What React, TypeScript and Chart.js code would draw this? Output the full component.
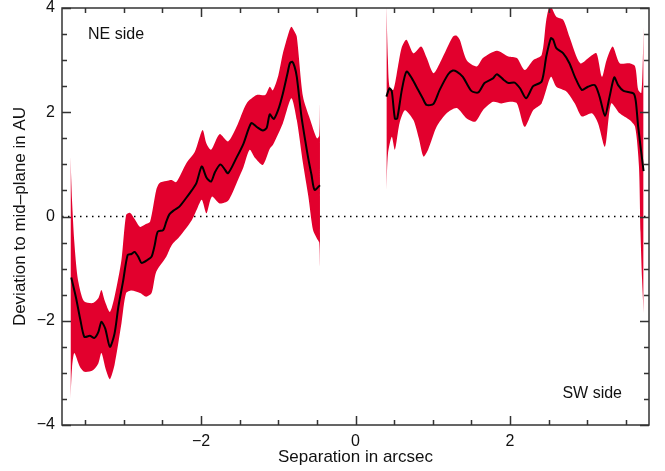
import React, { useEffect, useRef } from "react";
import { Chart, registerables } from "chart.js";

Chart.register(...registerables);

// ---------- Data ----------
const neMeanX = [-3.68, -3.62, -3.56, -3.51, -3.44, -3.38, -3.33, -3.29, -3.24, -3.18, -3.12, -3.07, -3.01, -2.95, -2.9, -2.86, -2.81, -2.77, -2.69, -2.64, -2.6, -2.56, -2.49, -2.45, -2.41, -2.35, -2.28, -2.19, -2.12, -2.06, -1.99, -1.93, -1.87, -1.82, -1.75, -1.7, -1.65, -1.54, -1.45, -1.35, -1.28, -1.2, -1.15, -1.11, -1.06, -1.0, -0.94, -0.88, -0.85, -0.82, -0.79, -0.76, -0.7, -0.65, -0.61, -0.57, -0.53, -0.46];
const neMeanY = [-1.17, -1.55, -2.0, -2.31, -2.29, -2.33, -2.22, -2.02, -2.15, -2.5, -2.25, -1.73, -1.25, -0.74, -0.72, -0.68, -0.78, -0.89, -0.83, -0.77, -0.55, -0.29, -0.26, -0.1, 0.04, 0.12, 0.19, 0.36, 0.5, 0.64, 0.96, 0.75, 0.67, 0.85, 1.0, 0.92, 0.83, 1.13, 1.4, 1.79, 1.72, 1.65, 1.7, 1.96, 1.87, 2.05, 2.36, 2.75, 2.94, 2.97, 2.88, 2.68, 1.92, 1.45, 1.1, 0.8, 0.51, 0.6];

const neUpperX = [-3.69, -3.67, -3.64, -3.6, -3.55, -3.51, -3.4, -3.33, -3.29, -3.25, -3.18, -3.12, -3.03, -2.97, -2.92, -2.86, -2.79, -2.72, -2.66, -2.58, -2.54, -2.45, -2.38, -2.32, -2.19, -2.08, -1.98, -1.93, -1.87, -1.76, -1.65, -1.54, -1.41, -1.28, -1.17, -1.11, -1.07, -1.0, -0.94, -0.86, -0.83, -0.79, -0.76, -0.68, -0.59, -0.5, -0.47, -0.46];
const neUpperY = [1.15, 0.3, -0.5, -1.15, -1.5, -1.63, -1.66, -1.57, -1.41, -1.6, -1.83, -1.54, -0.83, 0.03, 0.07, -0.05, -0.2, -0.15, -0.1, 0.51, 0.64, 0.68, 0.7, 0.66, 1.02, 1.24, 1.66, 1.4, 1.28, 1.58, 1.44, 1.72, 2.17, 2.33, 2.33, 2.49, 2.42, 2.7, 3.13, 3.55, 3.64, 3.55, 3.45, 2.3, 1.87, 1.5, 1.55, 2.18];

const neLowerX = [-3.69, -3.67, -3.64, -3.57, -3.51, -3.4, -3.33, -3.29, -3.23, -3.18, -3.12, -3.03, -2.97, -2.9, -2.79, -2.71, -2.64, -2.58, -2.45, -2.38, -2.28, -2.12, -2.05, -1.99, -1.93, -1.86, -1.76, -1.65, -1.54, -1.45, -1.37, -1.3, -1.2, -1.11, -1.07, -0.94, -0.83, -0.76, -0.68, -0.61, -0.55, -0.5, -0.47, -0.46];
const neLowerY = [-3.5, -2.9, -2.62, -2.88, -2.98, -2.95, -2.82, -2.62, -2.95, -3.12, -2.85, -2.05, -1.47, -1.42, -1.47, -1.54, -1.47, -1.06, -0.77, -0.55, -0.39, -0.07, 0.15, 0.32, 0.06, 0.38, 0.25, 0.3, 0.64, 0.95, 1.28, 1.12, 0.99, 1.3, 1.37, 1.79, 2.27, 1.85, 1.02, 0.38, -0.26, -0.42, -0.5, -0.96];

const swMeanX = [0.4, 0.44, 0.47, 0.51, 0.54, 0.6, 0.66, 0.73, 0.81, 0.87, 0.92, 1.01, 1.09, 1.2, 1.26, 1.31, 1.39, 1.5, 1.59, 1.67, 1.78, 1.83, 1.92, 1.98, 2.06, 2.13, 2.21, 2.3, 2.41, 2.47, 2.53, 2.56, 2.6, 2.69, 2.77, 2.84, 2.93, 3.01, 3.1, 3.16, 3.23, 3.29, 3.35, 3.4, 3.47, 3.6, 3.63, 3.66, 3.73];
const swMeanY = [2.3, 2.46, 2.4, 1.88, 1.88, 2.43, 2.78, 2.65, 2.43, 2.27, 2.14, 2.16, 2.43, 2.73, 2.8, 2.78, 2.68, 2.41, 2.38, 2.56, 2.65, 2.73, 2.62, 2.56, 2.57, 2.46, 2.27, 2.5, 2.59, 3.07, 3.42, 3.39, 3.23, 3.13, 2.94, 2.68, 2.43, 2.49, 2.52, 2.3, 1.93, 2.3, 2.67, 2.52, 2.41, 2.36, 2.2, 1.72, 0.87];

const swUpperX = [0.4, 0.42, 0.44, 0.49, 0.55, 0.6, 0.66, 0.75, 0.85, 0.92, 1.01, 1.11, 1.26, 1.31, 1.35, 1.44, 1.57, 1.65, 1.83, 1.98, 2.09, 2.19, 2.3, 2.41, 2.47, 2.52, 2.6, 2.69, 2.77, 2.91, 3.04, 3.12, 3.19, 3.25, 3.33, 3.42, 3.55, 3.62, 3.66, 3.7, 3.72, 3.73];
const swUpperY = [4.05, 3.0, 2.49, 2.43, 2.88, 3.25, 3.39, 3.13, 3.26, 3.05, 2.75, 3.0, 3.45, 3.47, 3.39, 3.0, 2.88, 3.04, 3.18, 3.07, 3.04, 2.81, 3.0, 3.1, 3.77, 4.05, 3.83, 3.77, 3.45, 2.94, 3.07, 3.13, 2.68, 3.0, 3.26, 2.94, 2.94, 2.88, 2.43, 2.37, 3.0, 3.64];

const swLowerX = [0.4, 0.42, 0.47, 0.51, 0.57, 0.64, 0.75, 0.82, 0.88, 0.94, 1.05, 1.18, 1.31, 1.44, 1.55, 1.65, 1.78, 1.89, 2.0, 2.09, 2.19, 2.3, 2.41, 2.53, 2.6, 2.73, 2.84, 2.93, 3.06, 3.14, 3.23, 3.31, 3.42, 3.55, 3.62, 3.67, 3.69, 3.71, 3.73];
const swLowerY = [0.5, 1.2, 1.53, 1.28, 1.79, 2.04, 1.85, 1.5, 1.15, 1.28, 1.72, 1.98, 2.08, 1.88, 1.82, 2.04, 2.2, 2.17, 2.2, 2.17, 1.72, 2.04, 2.17, 2.68, 2.49, 2.4, 2.17, 1.92, 1.98, 1.79, 1.34, 2.17, 1.98, 1.85, 1.72, 0.96, -0.3, -1.2, -1.85];

const zeroX = [-3.8, 3.8];
const zeroY = [0, 0];

const xTickValues = [-2, 0, 2];
const yTickValues = [-4, -2, 0, 2, 4];

const xTitle = "Separation in arcsec";
const yTitle = "Deviation to mid\u2013plane in AU";
const neLabel = "NE side";
const swLabel = "SW side";

// ---------- helpers ----------
const pts = (xs: number[], ys: number[]) => xs.map((x, i) => ({ x, y: ys[i] }));
const FONT = "'Liberation Sans', Arial, Helvetica, sans-serif";
const BAND = "#e2002d";
const fmt = (v: number) => (v < 0 ? "\u2212" + Math.abs(v) : String(v));

const framePlugin = {
  id: "frameTicks",
  afterDraw(chart: any) {
    const { ctx, chartArea: a, scales } = chart;
    const xs = scales.x;
    const ys = scales.y;
    ctx.save();
    ctx.strokeStyle = "#333";
    ctx.lineWidth = 1.5;
    ctx.strokeRect(a.left, a.top, a.right - a.left, a.bottom - a.top);
    ctx.beginPath();
    for (let v = -3.5; v <= 3.5 + 1e-9; v += 0.5) {
      const major = Math.abs(v % 2) < 1e-9;
      const len = major ? 9 : 5;
      const px = Math.round(xs.getPixelForValue(v)) + 0.5;
      ctx.moveTo(px, a.bottom);
      ctx.lineTo(px, a.bottom - len);
      ctx.moveTo(px, a.top);
      ctx.lineTo(px, a.top + len);
    }
    for (let v = -4; v <= 4 + 1e-9; v += 0.5) {
      const major = Math.abs(v % 2) < 1e-9;
      const len = major ? 9 : 5;
      const py = Math.round(ys.getPixelForValue(v)) + 0.5;
      ctx.moveTo(a.left, py);
      ctx.lineTo(a.left + len, py);
      ctx.moveTo(a.right, py);
      ctx.lineTo(a.right - len, py);
    }
    ctx.stroke();

    ctx.fillStyle = "#111";
    ctx.font = `16px ${FONT}`;
    ctx.textBaseline = "middle";
    ctx.textAlign = "left";
    ctx.fillText(neLabel, 88, 35);
    ctx.textAlign = "right";
    ctx.fillText(swLabel, 622, 394);
    ctx.restore();
  },
};

export default function App() {
  const ref = useRef<HTMLCanvasElement | null>(null);

  useEffect(() => {
    if (!ref.current) return;
    const lineBase = { pointRadius: 0, pointHoverRadius: 0, tension: 0.25 };
    const chart = new Chart(ref.current, {
      type: "line",
      data: {
        datasets: [
          { ...lineBase, label: "NE upper", data: pts(neUpperX, neUpperY), borderWidth: 0, borderColor: BAND, backgroundColor: BAND, fill: "+1", order: 1 },
          { ...lineBase, label: "NE lower", data: pts(neLowerX, neLowerY), borderWidth: 0, borderColor: BAND, backgroundColor: BAND, fill: false, order: 1 },
          { ...lineBase, label: "SW upper", data: pts(swUpperX, swUpperY), borderWidth: 0, borderColor: BAND, backgroundColor: BAND, fill: "+1", order: 1 },
          { ...lineBase, label: "SW lower", data: pts(swLowerX, swLowerY), borderWidth: 0, borderColor: BAND, backgroundColor: BAND, fill: false, order: 1 },
          { ...lineBase, tension: 0, label: "zero", data: pts(zeroX, zeroY), borderWidth: 1.5, borderColor: "#000", borderDash: [1.5, 4.5], fill: false, order: 2 },
          { ...lineBase, label: "NE mean", data: pts(neMeanX, neMeanY), borderWidth: 2, borderColor: "#000", fill: false, order: 0 },
          { ...lineBase, label: "SW mean", data: pts(swMeanX, swMeanY), borderWidth: 2, borderColor: "#000", fill: false, order: 0 },
        ],
      },
      options: {
        animation: false,
        responsive: false,
        maintainAspectRatio: false,
        devicePixelRatio: 1,
        layout: { padding: { top: 8, right: 16, left: 0, bottom: 0 } },
        plugins: { legend: { display: false }, tooltip: { enabled: false } },
        events: [],
        scales: {
          x: {
            type: "linear",
            min: -3.8,
            max: 3.8,
            grid: { display: false, drawTicks: false },
            border: { display: false },
            afterBuildTicks: (s: any) => {
              s.ticks = xTickValues.map((v) => ({ value: v }));
            },
            afterFit: (s: any) => {
              s.height = 46;
              s.paddingLeft = 0;
              s.paddingRight = 0;
            },
            ticks: {
              padding: 7,
              color: "#111",
              font: { family: FONT, size: 16 },
              maxRotation: 0,
              autoSkip: false,
              callback: (v: any) => fmt(Number(v)),
            },
            title: {
              display: true,
              text: xTitle,
              color: "#111",
              font: { family: FONT, size: 17 },
              padding: { top: 0, bottom: 3 },
            },
          },
          y: {
            type: "linear",
            min: -4,
            max: 4,
            grid: { display: false, drawTicks: false },
            border: { display: false },
            afterBuildTicks: (s: any) => {
              s.ticks = yTickValues.map((v) => ({ value: v }));
            },
            afterFit: (s: any) => {
              s.width = 62;
              s.paddingTop = 0;
              s.paddingBottom = 0;
            },
            ticks: {
              padding: 7,
              color: "#111",
              font: { family: FONT, size: 16 },
              autoSkip: false,
              callback: (v: any) => fmt(Number(v)),
            },
            title: {
              display: true,
              text: yTitle,
              color: "#111",
              font: { family: FONT, size: 17 },
              padding: { top: 10, bottom: 0 },
            },
          },
        },
      },
      plugins: [framePlugin],
    } as any);
    return () => chart.destroy();
  }, []);

  return (
    <div style={{ position: "fixed", left: 0, top: 0, width: 665, height: 471, background: "#fff" }}>
      <canvas ref={ref} width={665} height={471} style={{ display: "block", width: 665, height: 471 }} />
    </div>
  );
}
